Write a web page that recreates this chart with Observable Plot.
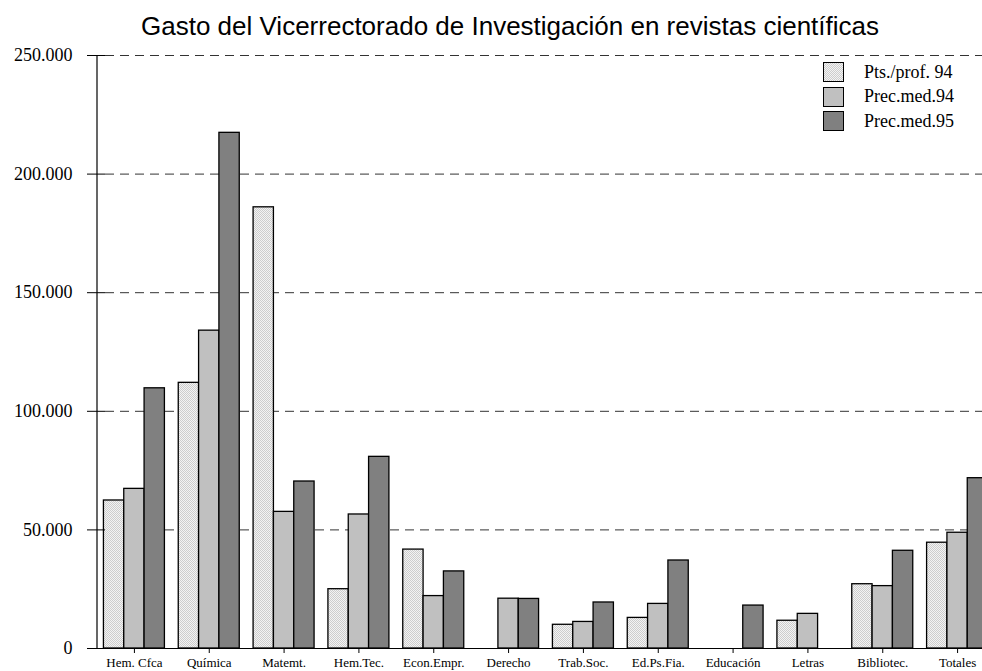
<!DOCTYPE html>
<html>
<head>
<meta charset="utf-8">
<script src="https://cdn.jsdelivr.net/npm/d3@7"></script>
<script src="https://cdn.jsdelivr.net/npm/@observablehq/plot@0.6"></script>
<style>
  html, body { margin: 0; padding: 0; background: #fff; overflow: hidden; }
  #wrap { position: relative; width: 982px; height: 671px; overflow: hidden; }
  #title { position: absolute; left: 30px; top: 11px; width: 960px; text-align: center;
           font-family: "Liberation Sans", Arial, sans-serif; font-size: 26px; color: #000; white-space: nowrap; }
  #chart { position: absolute; left: 0; top: 46px; }
  #chart svg { overflow: hidden; }
  #legend { position: absolute; left: 823px; top: 60px; font-family: "Liberation Serif", "Times New Roman", serif; font-size: 18px; color: #000; }
  .item { display: flex; align-items: center; height: 24.5px; }
  .item svg { display: block; margin-right: 20px; }
</style>
</head>
<body>
<svg width="0" height="0" style="position:absolute">
  <defs>
    <pattern id="dots" width="2" height="2" patternUnits="userSpaceOnUse">
      <rect width="2" height="2" fill="#f3f3f3"></rect>
      <rect width="1" height="1" fill="#cdcdcd"></rect>
      <rect x="1" y="1" width="1" height="1" fill="#cdcdcd"></rect>
    </pattern>
  </defs>
</svg>
<div id="wrap">
  <div id="title">Gasto del Vicerrectorado de Investigación en revistas científicas</div>
  <div id="chart"></div>
  <div id="legend"></div>
</div>
<script>
// ---- data ----
const categories = ["Hem. Cfca", "Química", "Matemt.", "Hem.Tec.", "Econ.Empr.", "Derecho",
                    "Trab.Soc.", "Ed.Ps.Fia.", "Educación", "Letras", "Bibliotec.", "Totales"];
const series = ["Pts./prof. 94", "Prec.med.94", "Prec.med.95"];
const ptsProf94 = [62400, 112000, 186000, 25000, 41700, null, 10000, 12900, null, 11700, 27100, 44600];
const precMed94 = [67300, 134000, 57600, 56500, 22100, 21000, 11200, 18800, null, 14600, 26300, 48800];
const precMed95 = [109700, 217400, 70400, 80800, 32500, 20900, 19400, 37100, 18100, null, 41200, 71800];
const yTicks = [0, 50000, 100000, 150000, 200000, 250000];

// ---- styles ----
const seriesFills = ["url(#dots)", "#c0c0c0", "#808080"];

const values = [ptsProf94, precMed94, precMed95];
const rows = series.flatMap((s, j) =>
  categories.map((c, i) => ({cat: c, serie: s, value: values[j][i]}))
).filter(d => d.value != null);

const fmt = d3.formatLocale({decimal: ",", thousands: ".", grouping: [3], currency: ["", ""]}).format(",");

const W = 982, H = 625, mL = 96.5, mR = -12.5, mT = 9, mB = 23;
const padIn = 0.185;
const step = (W - mL - mR) / categories.length;
const bw = step * (1 - padIn);
const third = bw / 3;

const chart = Plot.plot({
  width: W, height: H,
  marginLeft: mL, marginRight: mR, marginTop: mT, marginBottom: mB,
  style: {background: "#fff", color: "#000"},
  x: {domain: categories, paddingInner: padIn, paddingOuter: padIn / 2, round: false, label: null},
  y: {domain: [0, 250000], label: null},
  color: {domain: series, range: seriesFills},
  marks: [
    Plot.ruleY(yTicks.slice(1), {stroke: "#333", strokeWidth: 1, strokeDasharray: "9,6", insetLeft: 8.5}),
    ...series.map((s, j) => Plot.barY(rows.filter(d => d.serie === s), {
      x: "cat", y: "value", fill: "serie", stroke: "#000", strokeWidth: 1.3,
      insetLeft: j * third, insetRight: (2 - j) * third
    })),
    Plot.ruleY([0], {stroke: "#000", strokeWidth: 1.2, insetLeft: -9.5}),
    Plot.ruleX([categories[0]], {y1: 0, y2: 250000, dx: -step / 2, stroke: "#000", strokeWidth: 1.2}),
    Plot.axisY({ticks: yTicks, tickSize: 18, dx: 8.5, tickPadding: 15, tickFormat: fmt,
                fontSize: 18, fontFamily: "Liberation Serif", label: null}),
    Plot.axisX({tickSize: 5, tickPadding: 4, fontSize: 13, fontFamily: "Liberation Serif", label: null})
  ]
});
document.getElementById("chart").appendChild(chart);

// ---- legend ----
const legend = d3.select("#legend");
series.forEach((s, j) => {
  const item = legend.append("div").attr("class", "item");
  const sw = item.append("svg").attr("width", 21).attr("height", 20);
  sw.append("rect").attr("x", 0.5).attr("y", 0.5).attr("width", 20).attr("height", 19)
    .attr("fill", seriesFills[j]).attr("stroke", "#000").attr("stroke-width", 1);
  item.append("span").text(s);
});
</script>
</body>
</html>
